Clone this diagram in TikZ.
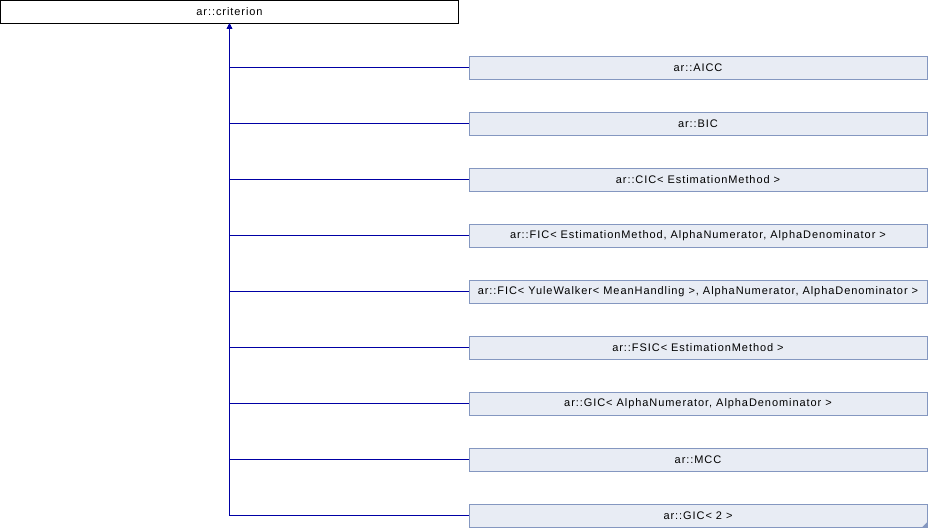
\documentclass[tikz,border=0pt]{standalone}
\usepackage{fontspec}
\setmainfont{Liberation Sans}
\newfontfamily\classfont[LetterSpace=8.5]{Liberation Sans}
\usetikzlibrary{arrows.meta}
\definecolor{edgeblue}{RGB}{0,0,165}
\definecolor{boxfill}{RGB}{232,236,244}
\definecolor{boxline}{RGB}{132,151,192}
\begin{document}
\begin{tikzpicture}[x=1pt, y=-1pt,
    base/.style={draw=black, fill=white, minimum width=458pt, minimum height=23pt, inner sep=0pt, font=\classfont\fontsize{11}{13}\selectfont},
    derived/.style={draw=boxline, fill=boxfill, minimum width=458pt, minimum height=23pt, inner sep=0pt, font=\classfont\fontsize{11}{13}\selectfont},
    inherit/.style={draw=edgeblue, line width=0.9pt, -{Triangle[length=5pt, width=5pt]}}]
    \useasboundingbox (0,0) rectangle (928,528);

    \node (CRIT) [base] at (229.5, 12) {ar::criterion};

    \node (AICC) [derived] at (698, 67.5) {ar::AICC};
    \node (BIC) [derived] at (698, 123.5) {ar::BIC};
    \node (CIC) [derived] at (698, 179.5) {ar::CIC< EstimationMethod >};
    \node (FIC) [derived] at (698, 235.5) {ar::FIC< EstimationMethod, AlphaNumerator, AlphaDenominator >};
    \node (FICYW) [derived] at (698, 291.5) {ar::FIC< YuleWalker< MeanHandling >, AlphaNumerator, AlphaDenominator >};
    \node (FSIC) [derived] at (698, 347.5) {ar::FSIC< EstimationMethod >};
    \node (GIC) [derived] at (698, 403.5) {ar::GIC< AlphaNumerator, AlphaDenominator >};
    \node (MCC) [derived] at (698, 459.5) {ar::MCC};
    \node (GICTWO) [derived] at (698, 515.5) {ar::GIC< 2 >};

    % fold mark on the last box
    \fill[boxline] (GICTWO.south east) -- ++(-5,0) -- ++(5,-5) -- cycle;

    \draw[inherit] (AICC) -| (CRIT);
    \draw[inherit] (BIC) -| (CRIT);
    \draw[inherit] (CIC) -| (CRIT);
    \draw[inherit] (FIC) -| (CRIT);
    \draw[inherit] (FICYW) -| (CRIT);
    \draw[inherit] (FSIC) -| (CRIT);
    \draw[inherit] (GIC) -| (CRIT);
    \draw[inherit] (MCC) -| (CRIT);
    \draw[inherit] (GICTWO) -| (CRIT);
\end{tikzpicture}
\end{document}
